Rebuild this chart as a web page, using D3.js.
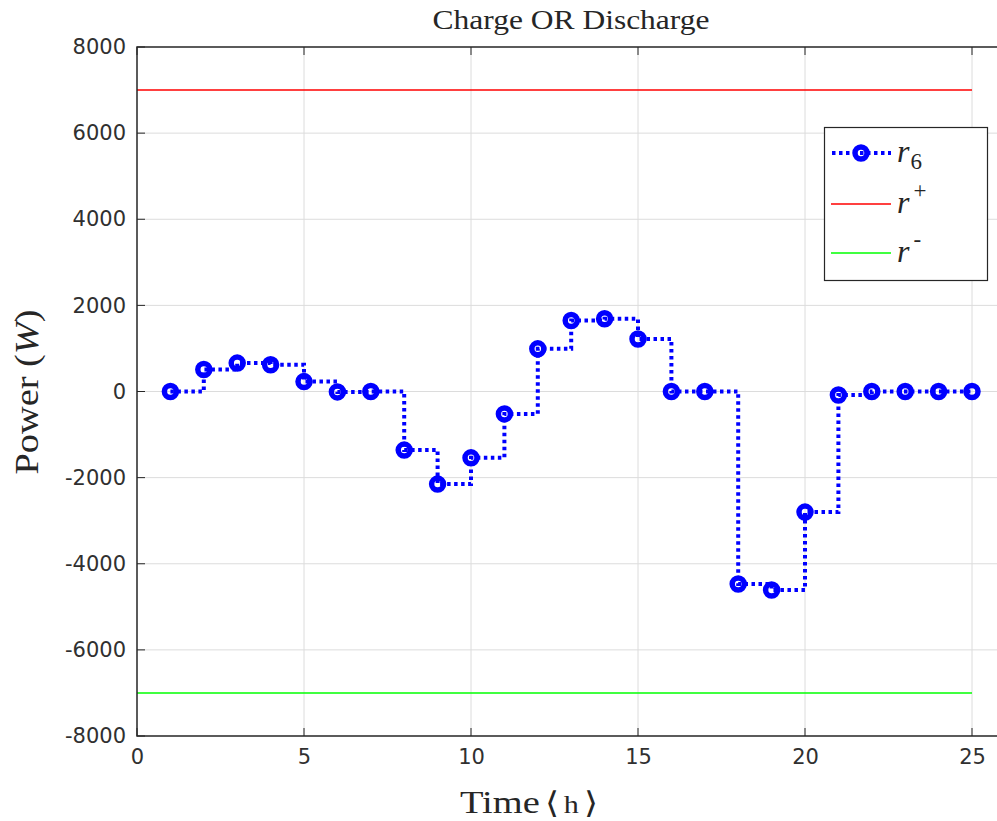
<!DOCTYPE html>
<html><head><meta charset="utf-8">
<script src="https://cdn.jsdelivr.net/npm/d3@7"></script>
<style>body{margin:0;background:#fff}svg{display:block}</style>
</head><body>
<script>
const hours = [1,2,3,4,5,6,7,8,9,10,11,12,13,14,15,16,17,18,19,20,21,22,23,24,25];
const r6 = [0,510,660,620,230,-10,0,-1360,-2150,-1540,-520,990,1650,1690,1220,0,0,-4470,-4610,-2800,-80,0,0,0,0];
const boundX = [0,25];
const rPlus = 7000, rMinus = -7000;
const xTicks = [0,5,10,15,20,25];
const yTicks = [-8000,-6000,-4000,-2000,0,2000,4000,6000,8000];

const W = 997, H = 821;
const svg = d3.select("body").append("svg").attr("width",W).attr("height",H);
const x = d3.scaleLinear().domain([0,26]).range([137,1005.4]);
const y = d3.scaleLinear().domain([-8000,8000]).range([736,47]);
const g = svg.append("g");

// grid
g.selectAll(".gx").data(xTicks.slice(1)).join("line")
 .attr("x1",d=>x(d)).attr("x2",d=>x(d)).attr("y1",y(-8000)).attr("y2",y(8000))
 .attr("stroke","#dcdcdc").attr("stroke-width",1);
g.selectAll(".gy").data(yTicks.slice(1,-1)).join("line")
 .attr("y1",d=>y(d)).attr("y2",d=>y(d)).attr("x1",x(0)).attr("x2",x(26))
 .attr("stroke","#dcdcdc").attr("stroke-width",1);

// bound lines
g.append("line").attr("x1",x(boundX[0])).attr("x2",x(boundX[1])).attr("y1",y(rPlus)).attr("y2",y(rPlus)).attr("stroke","#ff0000").attr("stroke-width",1.5);
g.append("line").attr("x1",x(boundX[0])).attr("x2",x(boundX[1])).attr("y1",y(rMinus)).attr("y2",y(rMinus)).attr("stroke","#00ff00").attr("stroke-width",1.5);

// stairs
const pts = hours.map((h,i)=>[h,r6[i]]);
const line = d3.line().x(d=>x(d[0])).y(d=>y(d[1])).curve(d3.curveStepAfter);
g.append("path").attr("d",line(pts)).attr("fill","none").attr("stroke","#0000ff")
 .attr("stroke-width",4).attr("stroke-dasharray","3.5,3.5");
g.selectAll(".m").data(pts).join("circle")
 .attr("cx",d=>x(d[0])).attr("cy",d=>y(d[1])).attr("r",6)
 .attr("fill","none").attr("stroke","#0000ff").attr("stroke-width",5.5);

// axes
const tickFont = "DejaVu Sans, sans-serif";
const fmt = d => String(d);
const xa = svg.append("g").attr("transform",`translate(0,${y(-8000)})`)
 .call(d3.axisBottom(x).tickValues(xTicks).tickFormat(fmt).tickSize(0).tickPadding(13));
xa.select(".domain").remove();
const ya = svg.append("g").attr("transform",`translate(${x(0)},0)`)
 .call(d3.axisLeft(y).tickValues(yTicks).tickFormat(fmt).tickSize(0).tickPadding(11));
ya.select(".domain").remove();
svg.selectAll(".tick text").attr("font-family",tickFont).attr("font-size",21).attr("fill","#303030");
// inner ticks
svg.selectAll(".xt").data(xTicks).join("line").attr("x1",d=>x(d)).attr("x2",d=>x(d))
 .attr("y1",y(-8000)).attr("y2",y(-8000)-8).attr("stroke","#262626");
svg.selectAll(".xt2").data(xTicks).join("line").attr("x1",d=>x(d)).attr("x2",d=>x(d))
 .attr("y1",y(8000)).attr("y2",y(8000)+8).attr("stroke","#262626");
svg.selectAll(".yt").data(yTicks).join("line").attr("y1",d=>y(d)).attr("y2",d=>y(d))
 .attr("x1",x(0)).attr("x2",x(0)+8).attr("stroke","#262626");
// box
svg.append("path").attr("d",`M${x(26)},${y(8000)}H${x(0)}V${y(-8000)}H${x(26)}`)
 .attr("fill","none").attr("stroke","#262626").attr("stroke-width",1.5);

// labels
const serif = "Liberation Serif, Times New Roman, serif";
svg.append("text").attr("x",571).attr("y",29).attr("text-anchor","middle")
 .attr("font-family",serif).attr("font-size",27).attr("fill","#262626")
 .attr("textLength",277).attr("lengthAdjust","spacingAndGlyphs").text("Charge OR Discharge");
const xl = svg.append("text").attr("x",529).attr("y",813).attr("text-anchor","middle")
 .attr("font-family",serif).attr("font-size",32).attr("fill","#262626")
 .attr("textLength",138).attr("lengthAdjust","spacingAndGlyphs");
xl.append("tspan").text("Time");
xl.append("tspan").attr("dx",4).attr("font-size",30).text("\u27E8");
xl.append("tspan").attr("dx",4).attr("font-size",25).text("h");
xl.append("tspan").attr("dx",4).attr("font-size",30).text("\u27E9");
const yl = svg.append("text").attr("transform","translate(38,392) rotate(-90)").attr("text-anchor","middle")
 .attr("font-family",serif).attr("font-size",34).attr("fill","#262626")
 .attr("textLength",165).attr("lengthAdjust","spacingAndGlyphs");
yl.append("tspan").text("Power (");
yl.append("tspan").attr("font-style","italic").text("W");
yl.append("tspan").text(")");

// legend
const lg = svg.append("g");
lg.append("rect").attr("x",824.5).attr("y",127.5).attr("width",163).attr("height",153)
 .attr("fill","#fff").attr("stroke","#262626").attr("stroke-width",1.2);
const rows = [153,204,253];
lg.append("line").attr("x1",832).attr("x2",891).attr("y1",rows[0]).attr("y2",rows[0])
 .attr("stroke","#0000ff").attr("stroke-width",4).attr("stroke-dasharray","3.5,3.5");
lg.append("circle").attr("cx",861).attr("cy",rows[0]).attr("r",6).attr("fill","none").attr("stroke","#0000ff").attr("stroke-width",5.5);
lg.append("line").attr("x1",831).attr("x2",891).attr("y1",rows[1]).attr("y2",rows[1]).attr("stroke","#ff0000").attr("stroke-width",1.5);
lg.append("line").attr("x1",831).attr("x2",891).attr("y1",rows[2]).attr("y2",rows[2]).attr("stroke","#00ff00").attr("stroke-width",1.5);
const labels = [["6",""],["","+"],["","-"]];
labels.forEach((l,i)=>{
  const t = lg.append("text").attr("x",897).attr("y",rows[i]+9).attr("font-family",serif)
   .attr("font-size",32).attr("fill","#262626");
  t.append("tspan").attr("font-style","italic").text("r");
  if(l[0]) t.append("tspan").attr("dx",1).attr("dy",7).attr("font-size",23).text(l[0]);
  if(l[1]) t.append("tspan").attr("dx",4).attr("dy",-15).attr("font-size",23).text(l[1]);
});
</script>
</body></html>
